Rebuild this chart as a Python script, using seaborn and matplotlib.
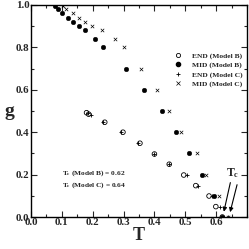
import matplotlib
matplotlib.use("Agg")
import matplotlib.pyplot as plt
from matplotlib.ticker import MultipleLocator
from matplotlib.lines import Line2D
import seaborn as sns

# ---- data ----
T_mid_B = [0.077, 0.088, 0.102, 0.119, 0.137, 0.154, 0.176, 0.206, 0.233, 0.309, 0.365, 0.424, 0.470, 0.513, 0.553, 0.594, 0.620]
g_mid_B = [0.995, 0.98, 0.96, 0.94, 0.92, 0.90, 0.88, 0.84, 0.80, 0.70, 0.60, 0.50, 0.40, 0.30, 0.20, 0.10, 0.0]

T_mid_C = [0.104, 0.115, 0.137, 0.156, 0.174, 0.198, 0.231, 0.273, 0.300, 0.357, 0.409, 0.448, 0.486, 0.538, 0.567, 0.610, 0.640]
g_mid_C = [0.995, 0.98, 0.96, 0.94, 0.92, 0.90, 0.88, 0.84, 0.80, 0.70, 0.60, 0.50, 0.40, 0.30, 0.20, 0.10, 0.0]

T_end_B = [0.180, 0.187, 0.239, 0.298, 0.353, 0.400, 0.448, 0.495, 0.534, 0.577, 0.599, 0.620]
g_end_B = [0.492, 0.485, 0.447, 0.400, 0.348, 0.297, 0.249, 0.198, 0.148, 0.099, 0.049, 0.0]

T_end_C = [0.185, 0.193, 0.232, 0.293, 0.347, 0.400, 0.448, 0.505, 0.542, 0.587, 0.612, 0.640]
g_end_C = [0.490, 0.482, 0.447, 0.400, 0.348, 0.297, 0.249, 0.198, 0.148, 0.099, 0.049, 0.0]

labels = ["END (Model B)", "MID (Model B)", "END (Model C)", "MID (Model C)"]
Tc_B = 0.62
Tc_C = 0.64

# ---- style ----
sns.set_theme(style="ticks")
plt.rcParams["font.family"] = ["Liberation Serif", "DejaVu Serif"]
plt.rcParams["font.weight"] = "bold"
plt.rcParams["mathtext.fontset"] = "custom"
plt.rcParams["mathtext.rm"] = "Liberation Serif:bold"
plt.rcParams["mathtext.it"] = "Liberation Serif:bold"
plt.rcParams["mathtext.bf"] = "Liberation Serif:bold"

fig = plt.figure(figsize=(2.49, 2.49), dpi=100)
ax = fig.add_axes([31 / 249, 32 / 249, 216 / 249, 212 / 249])

ms = 11
sns.scatterplot(x=T_end_B, y=g_end_B, ax=ax, marker="o", s=ms, facecolors="none",
                edgecolor="black", linewidth=0.6, zorder=3)
sns.scatterplot(x=T_mid_B, y=g_mid_B, ax=ax, marker="o", s=ms, color="black",
                edgecolor="black", linewidth=0.3, zorder=3)
sns.scatterplot(x=T_end_C, y=g_end_C, ax=ax, marker="+", s=ms, color="black",
                linewidth=0.6, zorder=3)
sns.scatterplot(x=T_mid_C, y=g_mid_C, ax=ax, marker="x", s=6, color="black",
                linewidth=0.5, zorder=3)

ax.set_xlim(0, 0.7)
ax.set_ylim(0, 1.0)
ax.set_xticks([0.0, 0.1, 0.2, 0.3, 0.4, 0.5, 0.6])
ax.set_xticklabels(["0.0", "0.1", "0.2", "0.3", "0.4", "0.5", "0.6"])
ax.set_yticks([0.0, 0.2, 0.4, 0.6, 0.8, 1.0])
ax.set_yticklabels(["0.0", "0.2", "0.4", "0.6", "0.8", "1.0"])
ax.xaxis.set_minor_locator(MultipleLocator(0.05))
ax.yaxis.set_minor_locator(MultipleLocator(0.1))
ax.tick_params(which="both", direction="in", top=True, right=True, width=0.8)
ax.tick_params(which="major", length=4, labelsize=7.8)
ax.tick_params(axis="x", which="major", pad=1.0)
ax.tick_params(axis="y", which="major", pad=1.0)
ax.tick_params(which="minor", length=2)
for lab in ax.get_xticklabels() + ax.get_yticklabels():
    lab.set_fontweight("bold")
for sp in ax.spines.values():
    sp.set_linewidth(1.0)
    sp.set_color("black")

ax.set_xlabel("T", fontsize=13, fontweight="bold", labelpad=0)
ax.set_ylabel("g", fontsize=14, fontweight="bold", rotation=0, labelpad=5, va="center")

# legend
handles = [
    Line2D([], [], marker="o", linestyle="none", markerfacecolor="none", markeredgecolor="black", markersize=3, markeredgewidth=0.6),
    Line2D([], [], marker="o", linestyle="none", color="black", markersize=3),
    Line2D([], [], marker="+", linestyle="none", color="black", markersize=3, markeredgewidth=0.6),
    Line2D([], [], marker="x", linestyle="none", color="black", markersize=2.5, markeredgewidth=0.5),
]
ax.legend(handles, labels, loc="center right", bbox_to_anchor=(1.0, 0.695), frameon=False,
          prop={"family": "Liberation Serif", "weight": "bold", "size": 5.4},
          handlelength=1.0, handletextpad=1.4, labelspacing=0.35, borderaxespad=0.2)

# Tc text
ax.text(0.10, 0.206, r"T$_\mathrm{c}$ (Model B) = %.2f" % Tc_B, fontsize=5.3, fontweight="bold", va="center")
ax.text(0.10, 0.148, r"T$_\mathrm{c}$ (Model C) = %.2f" % Tc_C, fontsize=5.3, fontweight="bold", va="center")

# arrows
ax.text(0.655, 0.207, r"T$_\mathrm{c}$", fontsize=8.5, fontweight="bold", ha="center", va="center")
ax.annotate("", xy=(Tc_B + 0.003, 0.012), xytext=(0.648, 0.175),
            arrowprops=dict(arrowstyle="-|>", color="black", lw=0.8, mutation_scale=6))
ax.annotate("", xy=(Tc_C + 0.003, 0.010), xytext=(0.670, 0.165),
            arrowprops=dict(arrowstyle="-|>", color="black", lw=0.8, mutation_scale=6))

fig.savefig("out.png", dpi=100)
